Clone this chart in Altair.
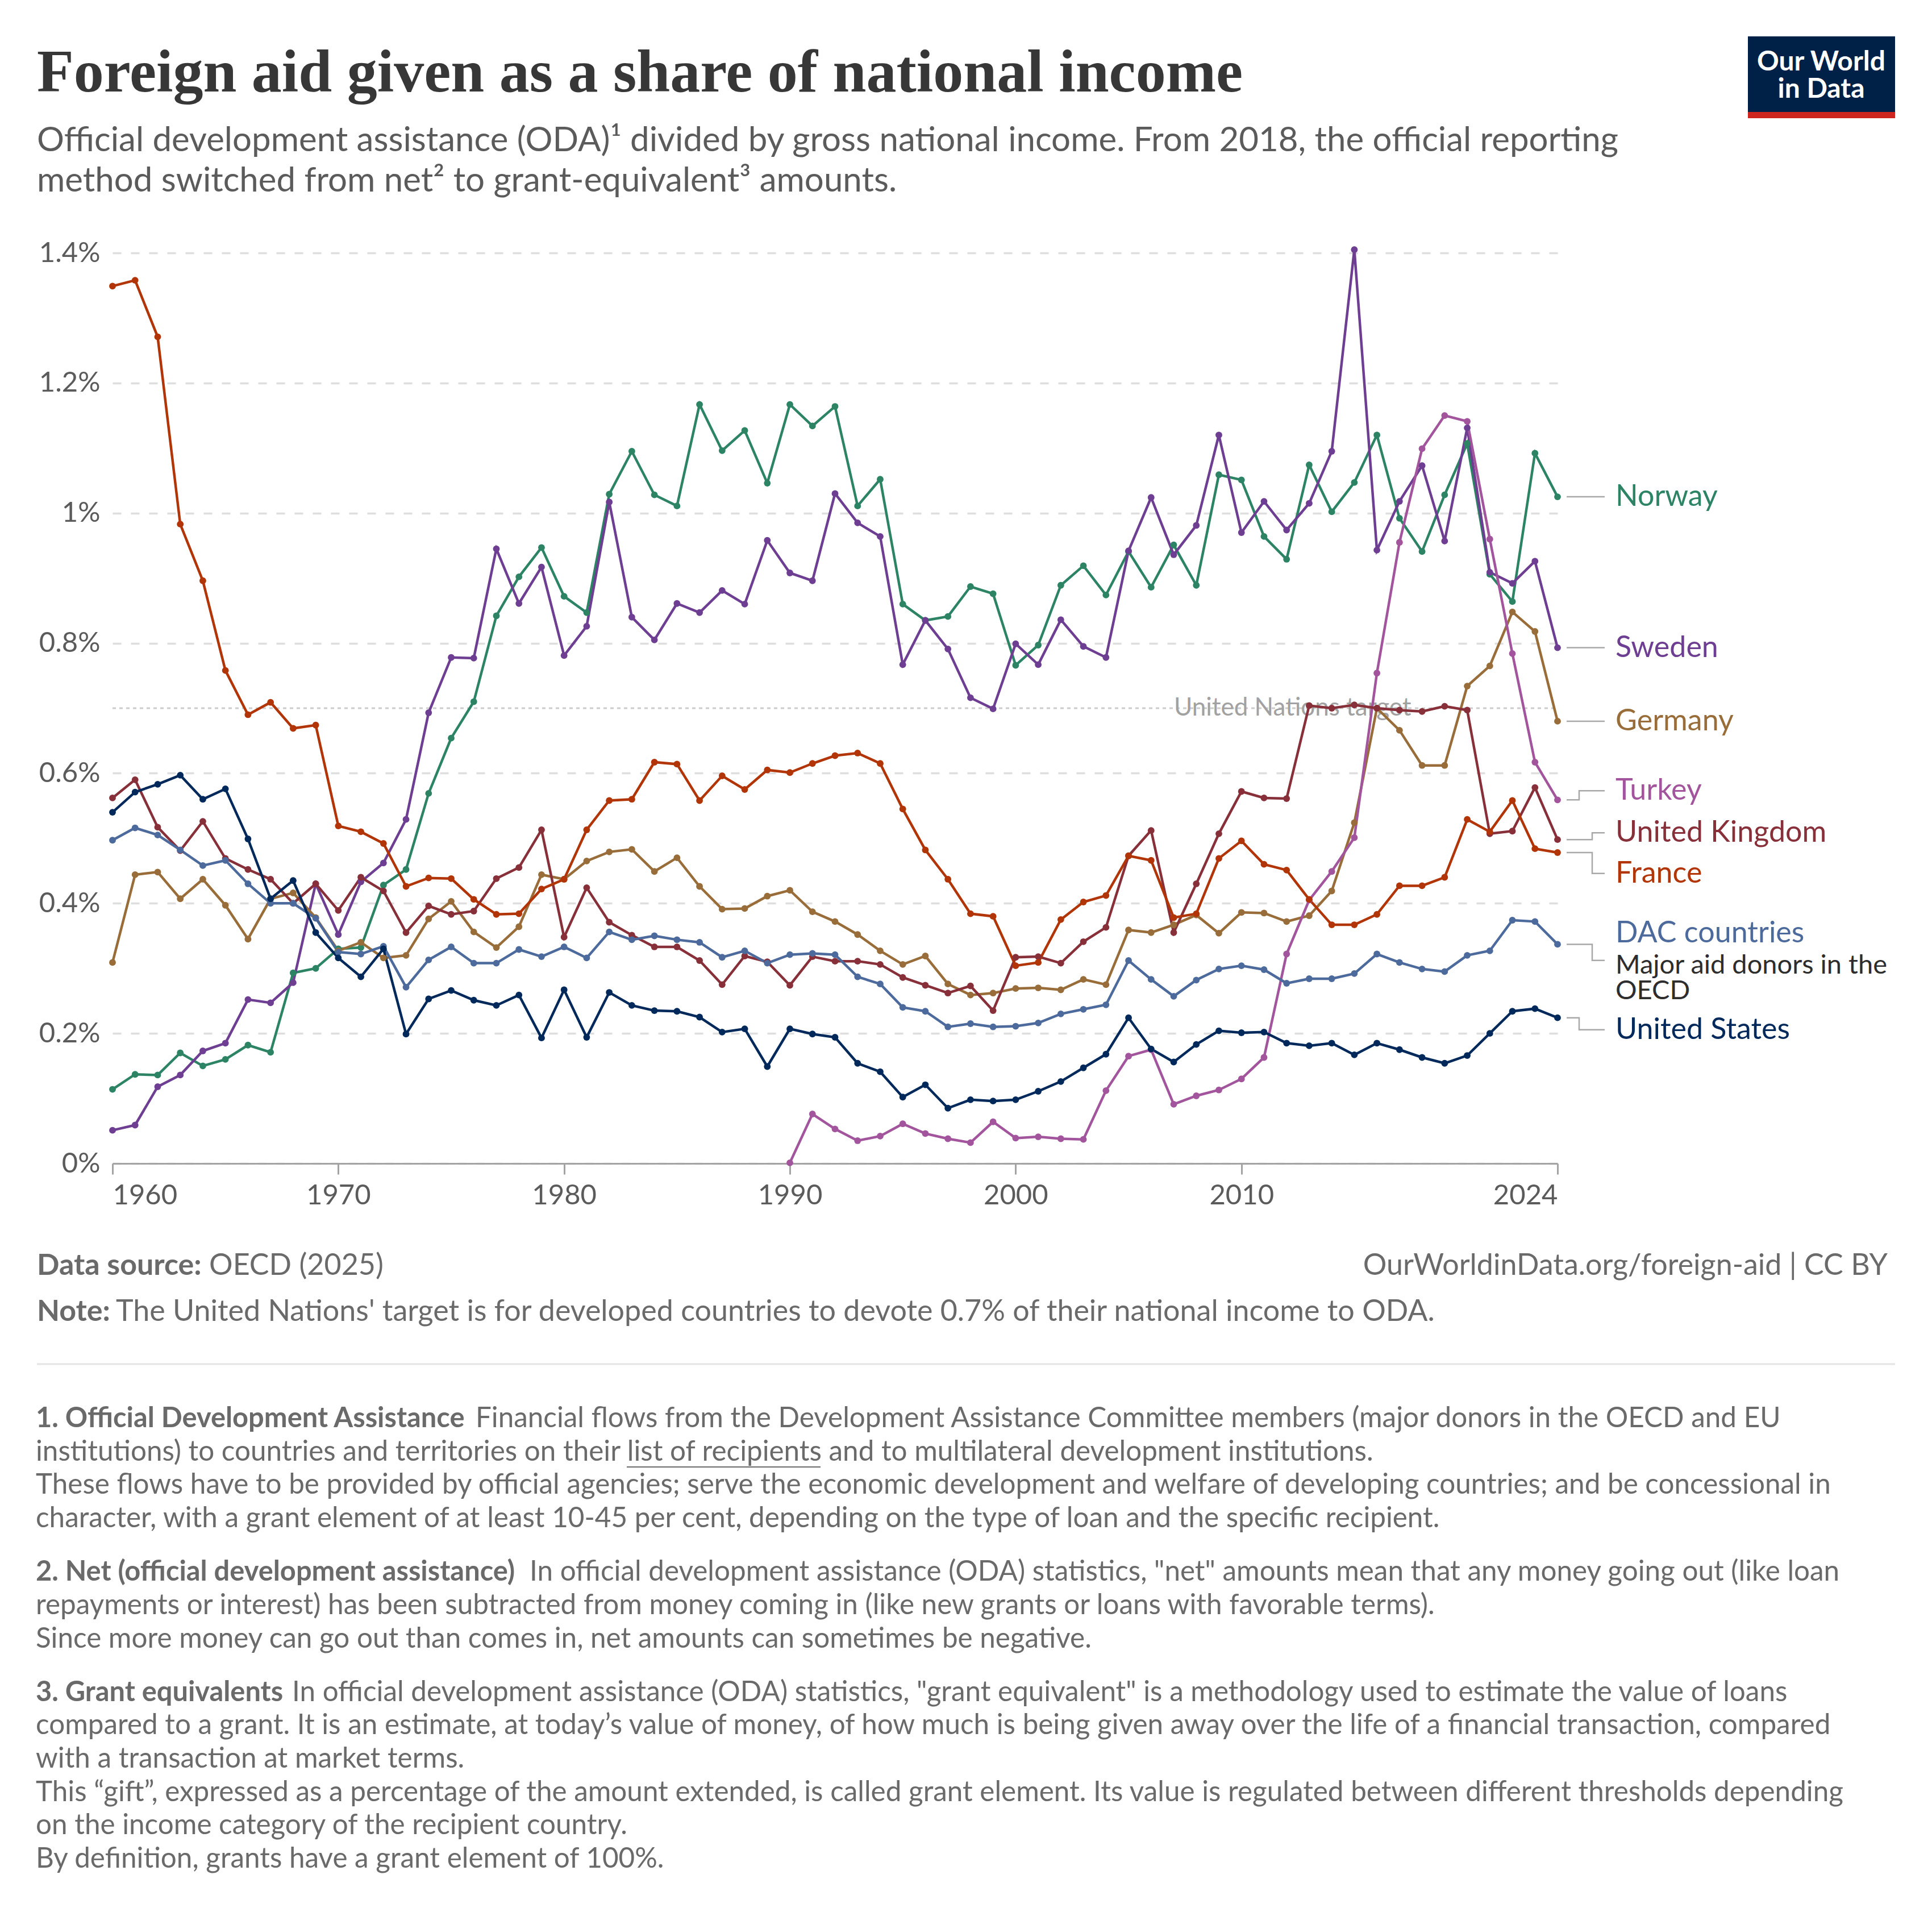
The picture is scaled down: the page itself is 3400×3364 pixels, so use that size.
import altair as alt
import pandas as pd

# ---- data (share of GNI, %) ----
YEARS = list(range(1960, 2025))
TURKEY_YEARS = list(range(1990, 2025))

NORWAY = [0.114, 0.137, 0.136, 0.170, 0.150, 0.160, 0.182, 0.171, 0.293, 0.300,
          0.330, 0.332, 0.428, 0.452, 0.569, 0.654, 0.710, 0.842, 0.902, 0.947,
          0.872, 0.847, 1.029, 1.095, 1.028, 1.011, 1.167, 1.096, 1.127, 1.046,
          1.167, 1.134, 1.164, 1.011, 1.052, 0.860, 0.835, 0.841, 0.887, 0.876,
          0.766, 0.797, 0.889, 0.919, 0.874, 0.941, 0.886, 0.951, 0.889, 1.059,
          1.051, 0.964, 0.929, 1.074, 1.002, 1.047, 1.120, 0.992, 0.941, 1.028,
          1.107, 0.906, 0.864, 1.092, 1.025]
SWEDEN = [0.051, 0.059, 0.118, 0.136, 0.173, 0.185, 0.252, 0.247, 0.278, 0.430,
          0.352, 0.433, 0.462, 0.529, 0.693, 0.778, 0.777, 0.945, 0.861, 0.917,
          0.781, 0.826, 1.017, 0.840, 0.805, 0.861, 0.847, 0.881, 0.860, 0.958,
          0.908, 0.896, 1.030, 0.985, 0.964, 0.767, 0.835, 0.791, 0.716, 0.699,
          0.799, 0.767, 0.836, 0.795, 0.778, 0.942, 1.024, 0.936, 0.981, 1.120,
          0.970, 1.018, 0.974, 1.015, 1.095, 1.405, 0.943, 1.018, 1.073, 0.957,
          1.131, 0.909, 0.892, 0.926, 0.793]
GERMANY = [0.309, 0.444, 0.448, 0.407, 0.437, 0.397, 0.345, 0.407, 0.416, 0.378,
           0.327, 0.340, 0.316, 0.320, 0.376, 0.403, 0.356, 0.332, 0.364, 0.444,
           0.437, 0.465, 0.479, 0.483, 0.449, 0.470, 0.426, 0.391, 0.392, 0.411,
           0.420, 0.387, 0.372, 0.352, 0.327, 0.306, 0.319, 0.276, 0.259, 0.262,
           0.269, 0.270, 0.267, 0.283, 0.275, 0.359, 0.355, 0.367, 0.382, 0.354,
           0.386, 0.385, 0.372, 0.381, 0.419, 0.524, 0.700, 0.666, 0.612, 0.612,
           0.734, 0.765, 0.848, 0.818, 0.680]
TURKEY = [0.001, 0.076, 0.053, 0.035, 0.042, 0.061, 0.046, 0.038, 0.032, 0.064,
          0.039, 0.041, 0.038, 0.037, 0.112, 0.165, 0.175, 0.091, 0.104, 0.113,
          0.130, 0.163, 0.322, 0.405, 0.449, 0.501, 0.754, 0.955, 1.099, 1.150,
          1.141, 0.960, 0.784, 0.617, 0.559]
UK = [0.562, 0.590, 0.517, 0.481, 0.526, 0.469, 0.452, 0.437, 0.400, 0.430,
      0.389, 0.440, 0.419, 0.355, 0.396, 0.383, 0.388, 0.438, 0.455, 0.513,
      0.348, 0.424, 0.371, 0.351, 0.333, 0.333, 0.312, 0.275, 0.319, 0.310,
      0.274, 0.318, 0.311, 0.311, 0.306, 0.286, 0.274, 0.262, 0.273, 0.235,
      0.317, 0.318, 0.308, 0.341, 0.363, 0.473, 0.512, 0.355, 0.430, 0.507,
      0.572, 0.562, 0.561, 0.704, 0.700, 0.705, 0.700, 0.697, 0.695, 0.703,
      0.697, 0.507, 0.511, 0.578, 0.498]
FRANCE = [1.349, 1.358, 1.271, 0.983, 0.896, 0.758, 0.690, 0.709, 0.669, 0.674,
          0.519, 0.510, 0.492, 0.426, 0.439, 0.438, 0.406, 0.383, 0.384, 0.422,
          0.437, 0.513, 0.558, 0.560, 0.617, 0.614, 0.558, 0.596, 0.575, 0.605,
          0.601, 0.615, 0.627, 0.631, 0.615, 0.545, 0.482, 0.437, 0.384, 0.380,
          0.304, 0.309, 0.375, 0.402, 0.412, 0.473, 0.466, 0.378, 0.384, 0.469,
          0.496, 0.460, 0.451, 0.406, 0.367, 0.367, 0.383, 0.427, 0.427, 0.440,
          0.529, 0.510, 0.558, 0.484, 0.478]
DAC = [0.497, 0.516, 0.505, 0.482, 0.458, 0.466, 0.430, 0.400, 0.400, 0.377,
       0.325, 0.322, 0.334, 0.271, 0.313, 0.333, 0.308, 0.308, 0.329, 0.318,
       0.333, 0.316, 0.356, 0.344, 0.350, 0.344, 0.340, 0.317, 0.327, 0.308,
       0.321, 0.323, 0.321, 0.287, 0.276, 0.240, 0.234, 0.210, 0.215, 0.210,
       0.211, 0.216, 0.230, 0.237, 0.244, 0.312, 0.283, 0.257, 0.282, 0.299,
       0.304, 0.298, 0.277, 0.284, 0.284, 0.292, 0.322, 0.309, 0.299, 0.295,
       0.320, 0.327, 0.374, 0.372, 0.337]
USA = [0.540, 0.571, 0.583, 0.597, 0.560, 0.576, 0.499, 0.407, 0.435, 0.355,
       0.316, 0.287, 0.330, 0.199, 0.253, 0.266, 0.251, 0.243, 0.259, 0.193,
       0.267, 0.194, 0.263, 0.243, 0.235, 0.234, 0.225, 0.202, 0.207, 0.149,
       0.207, 0.199, 0.194, 0.154, 0.141, 0.102, 0.121, 0.085, 0.098, 0.096,
       0.098, 0.111, 0.126, 0.147, 0.168, 0.224, 0.176, 0.156, 0.183, 0.204,
       0.201, 0.202, 0.185, 0.181, 0.185, 0.167, 0.185, 0.175, 0.163, 0.154,
       0.166, 0.200, 0.234, 0.238, 0.224]

SERIES = {
    "Norway": NORWAY,
    "Sweden": SWEDEN,
    "Germany": GERMANY,
    "Turkey": TURKEY,
    "United Kingdom": UK,
    "France": FRANCE,
    "DAC countries": DAC,
    "United States": USA,
}
COLORS = {
    "Norway": "#2c8465",
    "Sweden": "#6d3e91",
    "Germany": "#996d39",
    "Turkey": "#a2559c",
    "United Kingdom": "#883039",
    "France": "#b13507",
    "DAC countries": "#4c6a9c",
    "United States": "#00295b",
}
UN_TARGET = 0.7
X_TICKS = [1960, 1970, 1980, 1990, 2000, 2010, 2024]
Y_TICKS = [0, 0.2, 0.4, 0.6, 0.8, 1.0, 1.2, 1.4]

# ---- layout (pixels, relative to plot area) ----
W, H = 2543, 1602
PAD = {"left": 190, "top": 437, "right": 651, "bottom": 1309}
GREY = "#5b5b5b"
FOOT = "#6a6a6a"
X_START, X_END, X_TEXT = 2559, 2626, 2645
ELBOW_X = {"Turkey": 2581, "United States": 2581,
           "United Kingdom": 2604, "France": 2604, "DAC countries": 2604}
# label anchor heights in axis units where labels were pushed apart
LABEL_Y = {"Turkey": 0.573, "United Kingdom": 0.5085, "France": 0.446,
           "DAC countries": 0.3123, "United States": 0.2056}
TEXT_Y = {"DAC countries": 0.354}
DESC = [("Major aid donors in the", 0.304), ("OECD", 0.265)]

rows = []
for name, vals in SERIES.items():
    yrs = TURKEY_YEARS if name == "Turkey" else YEARS
    for yr, v in zip(yrs, vals):
        rows.append({"country": name, "year": yr, "value": v})
df = pd.DataFrame(rows)

conn, labs = [], []
for name, vals in SERIES.items():
    last = vals[-1]
    tgt = LABEL_Y.get(name, last)
    ex = ELBOW_X.get(name, X_START)
    for i, (cx, cy) in enumerate([(X_START, last), (ex, last), (ex, tgt), (X_END, tgt)]):
        conn.append({"country": name, "ord": i, "cx": cx, "cy": cy})
    labs.append({"country": name, "ty": TEXT_Y.get(name, tgt)})
conn = pd.DataFrame(conn)
labs = pd.DataFrame(labs)
desc = pd.DataFrame({"t": [d[0] for d in DESC], "ty": [d[1] for d in DESC]})

x_scale = alt.Scale(domain=[1960, 2024], nice=False, zero=False)
y_scale = alt.Scale(domain=[0, 1.4], nice=False)
c_scale = alt.Scale(domain=list(COLORS), range=list(COLORS.values()))

x_axis = alt.Axis(values=X_TICKS, format="d", labelFlush=True, title=None, grid=False,
                  domainColor="#a3a3a3", domainWidth=3, tickColor="#a3a3a3", tickWidth=3,
                  tickSize=19, labelPadding=13, labelFontSize=49, labelColor=GREY,
                  labelFont="Lato")
y_axis = alt.Axis(values=Y_TICKS, labelExpr="format(datum.value, '.1~f') + '%'", title=None,
                  domain=False, ticks=False, labelPadding=22, labelFontSize=49,
                  labelColor=GREY, labelFont="Lato", grid=True, gridColor="#dedede",
                  gridDash=[15, 17], gridWidth=3.5)

base = alt.Chart(df).encode(
    x=alt.X("year:Q", scale=x_scale, axis=x_axis),
    y=alt.Y("value:Q", scale=y_scale, axis=y_axis),
    color=alt.Color("country:N", scale=c_scale, legend=None),
)
lines = base.mark_line(strokeWidth=4.5)
points = base.mark_circle(size=140, opacity=1)

one = pd.DataFrame({"a": [0]})
un_line = alt.Chart(one).mark_rule(color="#cccccc", strokeWidth=3, strokeDash=[6, 6]).encode(
    y=alt.Y(datum=UN_TARGET, scale=y_scale, axis=y_axis), x=alt.value(0), x2=alt.value(W))
un_text = alt.Chart(one).mark_text(align="left", baseline="middle", font="Lato", fontSize=44,
                                   color="#a1a1a1").encode(
    y=alt.Y(datum=UN_TARGET, scale=y_scale, axis=y_axis), x=alt.value(1868),
    text=alt.value("United Nations target"))

connectors = alt.Chart(conn).mark_line(color="#a8a8a8", strokeWidth=2.5).encode(
    x=alt.X("cx:Q", scale=None),
    y=alt.Y("cy:Q", scale=y_scale, axis=y_axis),
    detail="country:N", order="ord:Q")
labels = alt.Chart(labs).mark_text(align="left", baseline="middle", font="Lato",
                                   fontSize=52).encode(
    x=alt.value(X_TEXT), y=alt.Y("ty:Q", scale=y_scale, axis=y_axis), text="country:N",
    color=alt.Color("country:N", scale=c_scale, legend=None))
desc_text = alt.Chart(desc).mark_text(align="left", baseline="middle", font="Lato",
                                      fontSize=47, color="#2d2d2d").encode(
    x=alt.value(X_TEXT), y=alt.Y("ty:Q", scale=y_scale, axis=y_axis), text="t:N")


def txt(s, x, y, size, color, weight="normal", align="left", font="Lato"):
    return alt.Chart(pd.DataFrame({"t": [s]})).mark_text(
        align=align, baseline="alphabetic", font=font, fontSize=size, fontWeight=weight,
        color=color).encode(x=alt.value(x), y=alt.value(y), text="t:N")


def box(x, x2, y, y2, color):
    return alt.Chart(one).mark_rect(color=color).encode(
        x=alt.value(x), x2=alt.value(x2), y=alt.value(y), y2=alt.value(y2))


def hline(x, x2, y, color, width):
    return alt.Chart(one).mark_rule(color=color, strokeWidth=width).encode(
        x=alt.value(x), x2=alt.value(x2), y=alt.value(y))


header = [
    txt("Foreign aid given as a share of national income", -133, -284, 106, "#373737",
        "bold", font="Liberation Serif"),
    txt("Official development assistance (ODA)\u00b9 divided by gross national income. "
        "From 2018, the official reporting", -133, -179, 60, GREY),
    txt("method switched from net\u00b2 to grant-equivalent\u00b3 amounts.", -133, -108, 60, GREY),
    box(2878, 3137, -381, -248, "#002147"),
    box(2878, 3137, -248, -237, "#ce261e"),
    txt("Our World", 3007, -321, 48, "white", "bold", "center"),
    txt("in Data", 3007, -273, 48, "white", "bold", "center"),
]

FOOT_SIZE = 52
footer = [
    txt("Data source:", -133, 1798, FOOT_SIZE, FOOT, "bold"),
    txt("OECD (2025)", 170, 1798, FOOT_SIZE, FOOT),
    txt("OurWorldinData.org/foreign-aid | CC BY", 3124, 1798, FOOT_SIZE, FOOT, align="right"),
    txt("Note:", -133, 1879, FOOT_SIZE, FOOT, "bold"),
    txt("The United Nations' target is for developed countries to devote 0.7% of their "
        "national income to ODA.", 6, 1879, FOOT_SIZE, FOOT),
    hline(-133, 3137, 1955, "#e7e7e7", 3.5),
]

NOTES = [
    ("1. Official Development Assistance", 639,
     ["Financial flows from the Development Assistance Committee members (major donors in the OECD and EU",
      "institutions) to countries and territories on their list of recipients and to multilateral development institutions.",
      "These flows have to be provided by official agencies; serve the economic development and welfare of developing countries; and be concessional in",
      "character, with a grant element of at least 10-45 per cent, depending on the type of loan and the specific recipient."]),
    ("2. Net (official development assistance)", 734,
     ["In official development assistance (ODA) statistics, \"net\" amounts mean that any money going out (like loan",
      "repayments or interest) has been subtracted from money coming in (like new grants or loans with favorable terms).",
      "Since more money can go out than comes in, net amounts can sometimes be negative."]),
    ("3. Grant equivalents", 316,
     ["In official development assistance (ODA) statistics, \"grant equivalent\" is a methodology used to estimate the value of loans",
      "compared to a grant. It is an estimate, at today\u2019s value of money, of how much is being given away over the life of a financial transaction, compared",
      "with a transaction at market terms.",
      "This \u201cgift\u201d, expressed as a percentage of the amount extended, is called grant element. Its value is regulated between different thresholds depending",
      "on the income category of the recipient country.",
      "By definition, grants have a grant element of 100%."]),
]
NOTE_TOP, NOTE_LINE, NOTE_PARA, NOTE_SIZE, HEAD_SIZE = 2066, 58.7, 94, 49.4, 48.8

notes = []
yy = NOTE_TOP
for head, head_w, lines_ in NOTES:
    notes.append(txt(head, -135, yy, HEAD_SIZE, FOOT, "bold"))
    for i, s in enumerate(lines_):
        notes.append(txt(s, head_w if i == 0 else -135, yy, NOTE_SIZE, FOOT))
        if i < len(lines_) - 1:
            yy += NOTE_LINE
    yy += NOTE_PARA
notes.append(hline(905, 1246, 2136, FOOT, 2))

chart = alt.layer(
    un_line, un_text, lines, points, connectors, labels, desc_text,
    *header, *footer, *notes,
).properties(
    width=W, height=H, padding=PAD, autosize=alt.AutoSizeParams(type="none"),
    background="white",
).configure_view(strokeWidth=0)

chart.save("out.html", embed_options={"renderer": "svg", "actions": False})
